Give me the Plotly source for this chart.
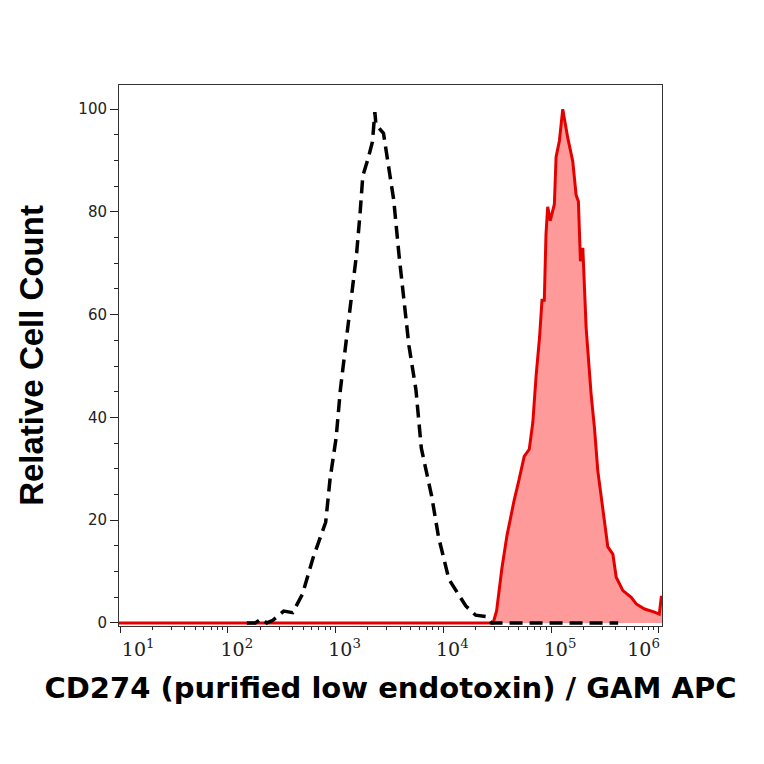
import plotly.graph_objects as go

# control (isotype) histogram - black dashed
ctrl_x = [150, 180, 204, 230, 262, 300, 330, 400, 493, 617, 810, 889, 1012, 1109, 1250,
          1403, 1570, 1687, 1791, 2000, 2198, 2317, 2371, 2786, 3112, 3467, 3882,
          4315, 4797, 5572, 6252, 7798, 9036, 11272, 14028, 16180, 20000, 25350,
          28000, 32000, 60000, 120000, 250000, 420000]
ctrl_y = [0, 0, 0.8, 0, 0.5, 1.5, 2.3, 2.0, 5.6, 12.6, 19.6, 28, 36, 45.4, 54.8,
          63, 72, 79.6, 87, 90.3, 93.6, 99.4, 97, 95.3, 88.3, 82.3, 71.6,
          63.5, 54, 45.4, 34, 24.7, 16.7, 8.5, 5.2, 3.3, 1.5, 1.2,
          0, 0, 0, 0, 0, 0]

# CD274 stained histogram - red filled
cd274_x = [8, 1000, 10000, 20000, 29040, 31260, 34920, 38990, 41980, 45290, 50350,
           56360, 62810, 67750, 72810, 78340, 82430, 86630, 89800, 93130, 98420,
           107400, 111400, 119500, 128500, 143000, 159200, 170900, 179500,
           187500, 197300, 211700, 235600, 252900, 271800, 302700, 336700,
           374900, 402700, 464600, 554800, 618000, 738500, 914200, 1011000,
           1055000, 1072000]
cd274_y = [0, 0, 0, 0, 0, 2.4, 10.5, 17, 20.4, 23.7, 27.8,
           32.4, 33.8, 39, 48.3, 55.7, 62.8, 62.8, 75.7, 81, 78.3,
           81.5, 90.7, 93.8, 100, 94.4, 89.8, 83.3, 82,
           70.4, 73, 57.5, 44.5, 38, 29.6, 21.8, 14.8,
           13.4, 8.9, 6.3, 5, 3.7, 2.7, 2.1, 1.7,
           5, 5]

x_tickvals = [10, 100, 1000, 10000, 100000, 1000000]
x_ticktext = ["&nbsp;&nbsp;&nbsp;10<sup>1</sup>", "10<sup>2</sup>", "10<sup>3</sup>",
              "10<sup>4</sup>", "10<sup>5</sup>",
              "10<sup>6</sup>" + "&nbsp;" * 8]
x_minor = [m * 10 ** e for e in range(1, 6) for m in range(2, 10)]

fig = go.Figure()
fig.add_trace(go.Scatter(x=cd274_x, y=cd274_y, mode="lines", fill="tozeroy",
                         fillcolor="#ff9a9a", line=dict(color="#e50000", width=3),
                         showlegend=False))
fig.add_trace(go.Scatter(x=ctrl_x, y=ctrl_y, mode="lines",
                         line=dict(color="black", width=3.5, dash="13px,7px"),
                         showlegend=False))

# page has 8px body margin, so plot area is offset accordingly
fig.update_layout(
    width=764, height=764,
    margin=dict(l=111, r=110, t=77, b=146),
    paper_bgcolor="white", plot_bgcolor="white",
    font=dict(family="DejaVu Sans", color="#222"),
)
fig.update_xaxes(
    type="log", range=[0.99, 6.03],
    tickvals=x_tickvals, ticktext=x_ticktext, ticklabelshift=9,
    tickfont=dict(family="DejaVu Serif", size=19, color="#222"),
    ticks="outside", ticklen=6, tickcolor="#222",
    minor=dict(tickvals=x_minor, ticks="outside", ticklen=3, tickcolor="#222"),
    showline=True, linecolor="#333", linewidth=1, mirror=True,
    showgrid=False, zeroline=False,
    title=dict(text="<b>CD274 (purified low endotoxin) / GAM APC</b>",
               font=dict(family="DejaVu Sans", size=29, color="black"), standoff=18),
)
fig.update_yaxes(
    range=[-0.6, 104.7], tickvals=[0, 20, 40, 60, 80, 100],
    tickfont=dict(family="DejaVu Sans", size=15, color="#222"),
    ticks="outside", ticklen=8, tickcolor="#222",
    minor=dict(dtick=5, ticks="outside", ticklen=4, tickcolor="#222"),
    showline=True, linecolor="#333", linewidth=1, mirror=True,
    showgrid=False, zeroline=False,
    title=dict(text="<b>Relative Cell Count</b>",
               font=dict(family="Liberation Sans", size=33, color="black"), standoff=24),
)

fig.write_html("out.html")
